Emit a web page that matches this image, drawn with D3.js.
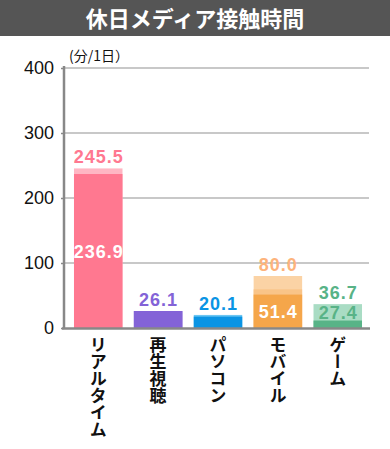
<!DOCTYPE html>
<html>
<head>
<meta charset="utf-8">
<script src="https://cdn.jsdelivr.net/npm/d3@7"></script>
<style>
  body { margin: 0; background: #fff; }
  svg { display: block; }
</style>
</head>
<body>
<svg></svg>
<script>
// data
let categories = ["リアルタイム", "再生視聴", "パソコン", "モバイル", "ゲーム"]
let baseValues = [236.9, 26.1, 17.5, 51.4, 11.5]   // dark part
let midValues  = [null, null, null, 59.5, null]     // middle band (mobile only)
let totalValues = [245.5, 26.1, 20.1, 80.0, 36.7]   // light top
let topLabels = ["245.5", "26.1", "20.1", "80.0", "36.7"]
let innerLabels = ["236.9", "", "", "51.4", "27.4"]
let yTicks = [0, 100, 200, 300, 400]

let width = 390
let height = 449

let colors = [
  {dark: "#ff7890", mid: "#ff7890", light: "#ffb6c3", top: "#ff7890", inner: "#ffffff"},
  {dark: "#8363d7", mid: "#8363d7", light: "#8363d7", top: "#8363d7", inner: "#ffffff"},
  {dark: "#0a94e4", mid: "#0a94e4", light: "#6cc6f2", top: "#0a94e4", inner: "#ffffff"},
  {dark: "#f5a64a", mid: "#f9c488", light: "#fbd3a5", top: "#fdb37c", inner: "#ffffff"},
  {dark: "#58b387", mid: "#58b387", light: "#a9dcc4", top: "#58b387", inner: "#58b387"}
]

let svg = d3.select("svg").attr("width", width).attr("height", height)

// title bar
svg.append("rect")
   .attr("x", 0).attr("y", 0)
   .attr("width", width).attr("height", 36)
   .attr("fill", "#555555")
svg.append("text")
   .attr("x", width / 2).attr("y", 27)
   .attr("text-anchor", "middle")
   .attr("fill", "#fff")
   .attr("font-family", "'Noto Sans CJK JP', sans-serif")
   .attr("font-weight", "bold")
   .attr("font-size", 22)
   .text("休日メディア接触時間")

let yScale = d3.scaleLinear().domain([0, 400]).range([328, 68])
let xScale = d3.scaleBand()
               .domain(categories)
               .range([68, 368])
               .paddingInner(0.19)
               .paddingOuter(0.1)

// grid
svg.append("g")
   .selectAll("line")
   .data(yTicks.filter(d => d > 0))
   .enter()
   .append("line")
   .attr("x1", 64).attr("x2", 369)
   .attr("y1", d => yScale(d)).attr("y2", d => yScale(d))
   .attr("stroke", "#c8c8c8")
   .attr("stroke-width", 2)

// y axis
let yAxis = d3.axisLeft(yScale).tickValues(yTicks).tickSize(3).tickPadding(7)
let gy = svg.append("g")
   .attr("transform", "translate(64,0)")
   .call(yAxis)
gy.select(".domain").attr("stroke", "#888").attr("stroke-width", 2.5)
   .attr("d", "M0,66V329")
gy.selectAll(".tick line").attr("stroke", "#888").attr("stroke-width", 1.5)
gy.selectAll(".tick text")
  .attr("fill", "#111")
  .attr("font-family", "'Liberation Sans', Arial, sans-serif")
  .attr("font-size", 18)

svg.append("text")
   .attr("x", 69).attr("y", 61)
   .attr("font-family", "'Noto Sans CJK JP', sans-serif")
   .attr("font-size", 14)
   .attr("fill", "#111")
   .text("(分/1日）")

// bars
let bars = svg.append("g")
categories.forEach((c, i) => {
  let x = xScale(c)
  let w = xScale.bandwidth()
  bars.append("rect")
      .attr("x", x).attr("width", w)
      .attr("y", yScale(totalValues[i]))
      .attr("height", yScale(0) - yScale(totalValues[i]))
      .attr("fill", colors[i].light)
  if (midValues[i] != null) {
    bars.append("rect")
        .attr("x", x).attr("width", w)
        .attr("y", yScale(midValues[i]))
        .attr("height", yScale(0) - yScale(midValues[i]))
        .attr("fill", colors[i].mid)
  }
  bars.append("rect")
      .attr("x", x).attr("width", w)
      .attr("y", yScale(baseValues[i]))
      .attr("height", yScale(0) - yScale(baseValues[i]))
      .attr("fill", colors[i].dark)
})

// x axis line
svg.append("line")
   .attr("x1", 62).attr("x2", 370)
   .attr("y1", 328.5).attr("y2", 328.5)
   .attr("stroke", "#888")
   .attr("stroke-width", 2.5)

// value labels
let labelFont = "'Liberation Sans', Arial, sans-serif"
svg.append("g")
   .selectAll("text")
   .data(categories)
   .enter()
   .append("text")
   .attr("x", d => xScale(d) + xScale.bandwidth() / 2 + 0.5)
   .attr("y", (d, i) => yScale(totalValues[i]) - 5)
   .attr("text-anchor", "middle")
   .attr("font-family", labelFont)
   .attr("font-weight", "bold")
   .attr("font-size", 18)
   .attr("letter-spacing", 1)
   .attr("fill", (d, i) => colors[i].top)
   .text((d, i) => topLabels[i])

svg.append("g")
   .selectAll("text")
   .data(categories)
   .enter()
   .append("text")
   .attr("x", d => xScale(d) + xScale.bandwidth() / 2 + 0.5)
   .attr("y", (d, i) => Math.min(yScale(+innerLabels[i] / 2), yScale(0) - 16) + 6.5)
   .attr("text-anchor", "middle")
   .attr("font-family", labelFont)
   .attr("font-weight", "bold")
   .attr("font-size", 18)
   .attr("letter-spacing", 1)
   .attr("fill", (d, i) => colors[i].inner)
   .text((d, i) => innerLabels[i])

// category labels, vertical
svg.append("g")
   .selectAll("text")
   .data(categories)
   .enter()
   .append("text")
   .attr("x", d => xScale(d) + xScale.bandwidth() / 2)
   .attr("y", 336)
   .style("writing-mode", "vertical-rl")
   .attr("font-family", "'Noto Sans CJK JP', sans-serif")
   .attr("font-weight", "bold")
   .attr("font-size", 17)
   .attr("fill", "#111")
   .text(d => d)
</script>
</body>
</html>
